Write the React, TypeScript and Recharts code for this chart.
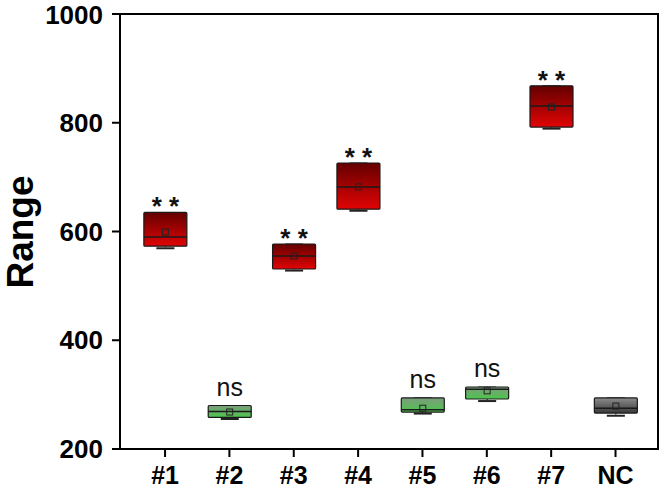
import React from 'react';
import { ComposedChart, Bar, XAxis, YAxis, ReferenceArea, Label } from 'recharts';

const categories = ['#1', '#2', '#3', '#4', '#5', '#6', '#7', 'NC'];
const lowerQuartile = [573, 258, 531, 641, 268, 292, 792, 266];
const upperQuartile = [635, 280, 577, 726, 294, 314, 868, 294];
const medians = [590, 269, 555, 682, 272, 310, 831, 275];
const means = [599, 268, 555, 682, 275, 307, 829, 279];
const minimums = [571, 257, 530, 640, 267, 290, 791, 263];
const maximums = [635, 280, 577, 726, 294, 314, 868, 294];
const significance = ['**', 'ns', '**', '**', 'ns', 'ns', '**', ''];
const groups = ['red', 'green', 'red', 'red', 'green', 'green', 'red', 'gray'];
const yTicks = [200, 400, 600, 800, 1000];

const FONT = '"Liberation Sans", Arial, sans-serif';

const GRADIENTS: Record<string, [string, string]> = {
    red: ['#640000', '#e20404'],
    green: ['#7d9c7d', '#4cc64c'],
    gray: ['#8c8c8c', '#383838'],
};

const data = categories.map((name, i) => ({
    x: i + 1,
    name,
    box: [lowerQuartile[i], upperQuartile[i]],
    q1: lowerQuartile[i],
    q3: upperQuartile[i],
    median: medians[i],
    mean: means[i],
    min: minimums[i],
    max: maximums[i],
    sig: significance[i],
    group: groups[i],
}));

function BoxShape(props: any) {
    const { x, y, width, height, payload, index } = props;
    const { q1, q3, median, mean, min, max, sig, group } = payload;
    const ppu = height / (q3 - q1);
    const toY = (v: number) => y + (q3 - v) * ppu;
    const cx = x + width / 2;
    const capW = width * 0.42;
    const [c0, c1] = GRADIENTS[group];
    const id = `box-grad-${index}`;
    const medY = toY(median);
    const meanY = toY(mean);
    const minY = toY(min);
    const maxY = toY(max);
    return (
        <g>
            <defs>
                <linearGradient id={id} x1="0" y1="0" x2="0" y2="1">
                    <stop offset="0%" stopColor={c0} />
                    <stop offset="100%" stopColor={c1} />
                </linearGradient>
            </defs>
            <line x1={cx} x2={cx} y1={maxY} y2={y} stroke="#111" strokeWidth={1} />
            <line x1={cx} x2={cx} y1={y + height} y2={minY} stroke="#111" strokeWidth={1} />
            <line x1={cx - capW / 2} x2={cx + capW / 2} y1={minY + 1} y2={minY + 1} stroke="#222" strokeWidth={2} />
            <line x1={cx - capW / 2} x2={cx + capW / 2} y1={maxY} y2={maxY} stroke="#222" strokeWidth={1} />
            <rect x={x} y={y} width={width} height={height} fill={`url(#${id})`} stroke="#1a1a1a" strokeWidth={1.2} rx={1} />
            <line x1={x} x2={x + width} y1={medY} y2={medY} stroke="#1a1a1a" strokeWidth={1.5} />
            <rect x={cx - 3} y={meanY - 3} width={6} height={6} fill="none" stroke="#222" strokeWidth={1} />
            {sig === '**' && (
                <text x={cx} y={maxY + 3} textAnchor="middle" fontFamily={FONT} fontWeight="bold" fontSize={26} fill="#111">
                    * *
                </text>
            )}
            {sig === 'ns' && (
                <text x={cx} y={maxY - 10} textAnchor="middle" fontFamily={FONT} fontSize={25} fill="#111">
                    ns
                </text>
            )}
        </g>
    );
}

export default function App() {
    const xTickStyle = { fontSize: 25, fontWeight: 'bold', fill: '#000', fontFamily: FONT };
    const yTickStyle = { fontSize: 26, fontWeight: 'bold', fill: '#000', fontFamily: FONT };
    const lineStyle = { stroke: '#000', strokeWidth: 2 };
    return (
        <div style={{ position: 'absolute', left: 0, top: 0, width: 665, height: 488, background: '#fff' }}>
            <ComposedChart width={665} height={488} data={data} margin={{ top: 14, right: 7, left: 0, bottom: 0 }}>
                <XAxis
                    dataKey="x"
                    type="number"
                    domain={[0.3, 8.66]}
                    ticks={[1, 2, 3, 4, 5, 6, 7, 8]}
                    tickFormatter={(v: number) => categories[v - 1]}
                    allowDataOverflow
                    height={39}
                    tickSize={8}
                    tickMargin={9}
                    tick={xTickStyle}
                    tickLine={lineStyle}
                    axisLine={lineStyle}
                />
                <YAxis
                    type="number"
                    domain={[200, 1000]}
                    ticks={yTicks}
                    allowDataOverflow
                    width={120}
                    tickSize={8}
                    tickMargin={9}
                    tick={yTickStyle}
                    tickLine={lineStyle}
                    axisLine={lineStyle}
                >
                    <Label
                        content={() => (
                            <text
                                x={33}
                                y={232}
                                transform="rotate(-90 33 232)"
                                textAnchor="middle"
                                fontFamily={FONT}
                                fontWeight="bold"
                                fontSize={37}
                                fill="#000"
                            >
                                Range
                            </text>
                        )}
                    />
                </YAxis>
                <ReferenceArea x1={0.3} x2={8.66} y1={200} y2={1000} fill="none" stroke="#000" strokeWidth={2} fillOpacity={0} />
                <Bar dataKey="box" barSize={43} shape={BoxShape} isAnimationActive={false} />
            </ComposedChart>
        </div>
    );
}
